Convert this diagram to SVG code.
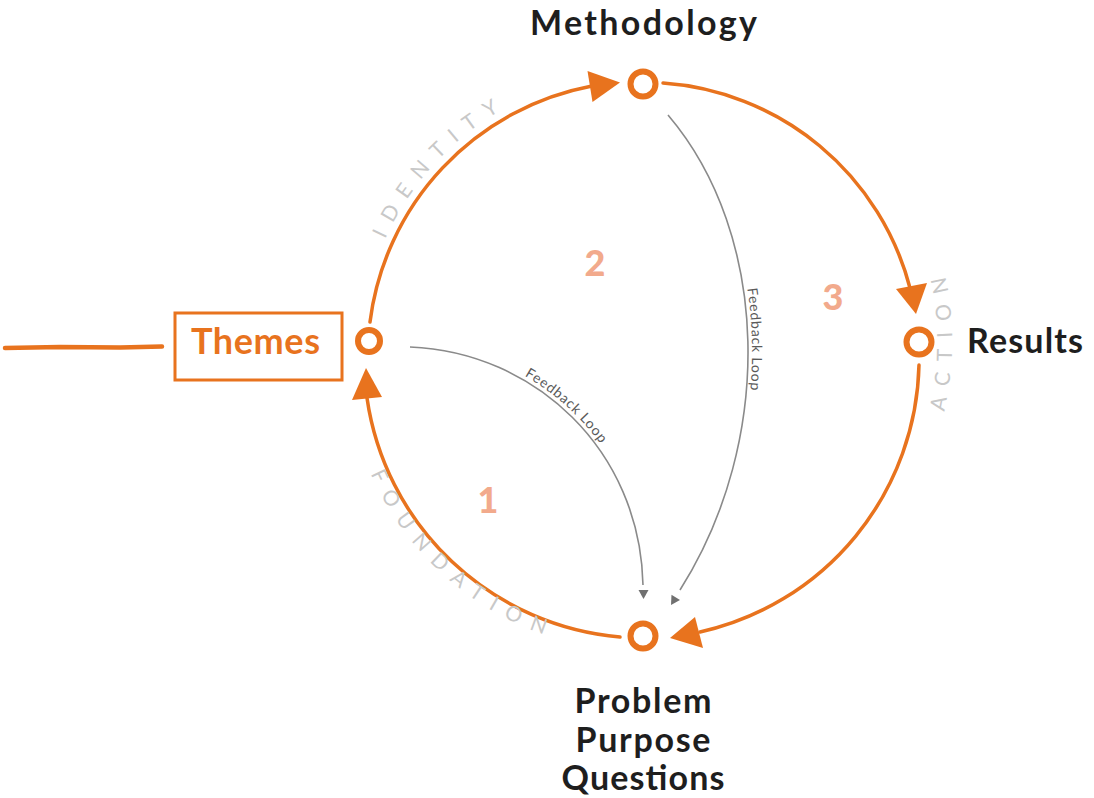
<svg xmlns="http://www.w3.org/2000/svg" width="1094" height="798" viewBox="0 0 1094 798">
<style>
.arc{fill:none;stroke:#E8731E;stroke-width:3.5;stroke-linecap:round}
.head{fill:#E8731E}
.ring{fill:none;stroke:#E8731E;stroke-width:6}
.fb{fill:none;stroke:#8a8a8a;stroke-width:1.6}
.fbhead{fill:#707070}
.fbtxt{font-family:Lato,"Liberation Sans",sans-serif;font-size:14px;fill:#5a5a5a;letter-spacing:0.7px}
.title{font-family:Lato,"Open Sans","Liberation Sans",sans-serif;font-weight:700;font-size:34px;fill:#1e1e1e}
.theme{font-family:Lato,"Open Sans","Liberation Sans",sans-serif;font-weight:700;font-size:36px;fill:#E8731E}
.num{font-family:Lato,"Liberation Sans",sans-serif;font-weight:900;font-size:36px;fill:#F2AA8C}
.ring-lbl{font-family:Lato,"Liberation Sans",sans-serif;font-weight:400;font-size:21px;fill:#c8c8c8;letter-spacing:11.5px}
</style>
<defs>
<path id="p-identity" d="M 370 282 A 283 283 0 0 1 546 89"/>
<path id="p-foundation" d="M 356 432 A 297 297 0 0 0 591 647"/>
<path id="p-action" d="M 923 472 A 309 309 0 0 0 923 210"/>
<path id="fb1" d="M 410 347 C 535 352, 640 450, 643 585"/>
<path id="fb2" d="M 668 115 C 770 235, 775 440, 680 590"/>
</defs>
<rect width="1094" height="798" fill="#ffffff"/>

<g id="connectors">
<path class="arc" d="M 370 322 A 275 275 0 0 1 592 86"/>
<polygon class="head" points="587.5,71 620,82.5 592.5,102"/>
<path class="arc" d="M 663 83 A 275 275 0 0 1 910 288"/>
<polygon class="head" points="896,289 927,283 916,314"/>
<path class="arc" d="M 919 365 A 280 280 0 0 1 700 632"/>
<polygon class="head" points="695,617 670,638 703,648"/>
<path class="arc" d="M 620 637 A 280 280 0 0 1 367 398"/>
<polygon class="head" points="352,400 366,368 382,397"/>
<path d="M 5 348 L 60 347 L 120 347.5 L 162 346.5" fill="none" stroke="#E8731E" stroke-width="4.5" stroke-linecap="round"/>
<use href="#fb1" class="fb"/>
<polygon class="fbhead" points="638.5,590 648.5,590 643.5,599"/>
<use href="#fb2" class="fb"/>
<polygon class="fbhead" points="680,600 671.5,594.8 671,605"/>
<text class="fbtxt" dy="-4"><textPath href="#fb1" startOffset="46%" text-anchor="middle">Feedback Loop</textPath></text>
<text class="fbtxt" dy="-4"><textPath href="#fb2" startOffset="48%" text-anchor="middle">Feedback Loop</textPath></text>
</g>

<g id="ring-labels">
<text class="ring-lbl"><textPath href="#p-identity" startOffset="51%" text-anchor="middle">IDENTITY</textPath></text>
<text class="ring-lbl"><textPath href="#p-foundation" startOffset="51%" text-anchor="middle">FOUNDATION</textPath></text>
<text class="ring-lbl"><textPath href="#p-action" startOffset="51%" text-anchor="middle">ACTION</textPath></text>
</g>

<g id="numbers">
<text class="num" x="488" y="513" text-anchor="middle">1</text>
<text class="num" x="595" y="276" text-anchor="middle">2</text>
<text class="num" x="833" y="310" text-anchor="middle">3</text>
</g>

<g id="node-methodology">
<circle class="ring" cx="643" cy="84" r="12.5"/>
<text class="title" x="530" y="35" textLength="227" lengthAdjust="spacing">Methodology</text>
</g>

<g id="node-themes">
<circle class="ring" cx="369" cy="341" r="11"/>
<rect x="175" y="313" width="167" height="67" fill="none" stroke="#E8731E" stroke-width="3"/>
<text class="theme" x="191" y="354" textLength="129" lengthAdjust="spacing">Themes</text>
</g>

<g id="node-results">
<circle class="ring" cx="919" cy="342" r="12.5"/>
<text class="title" x="967" y="353" textLength="116" lengthAdjust="spacing">Results</text>
</g>

<g id="node-problem">
<circle class="ring" cx="643" cy="636" r="12.5"/>
<text class="title" x="643" y="713" text-anchor="middle" textLength="137" lengthAdjust="spacing">Problem</text>
<text class="title" x="643" y="752" text-anchor="middle" textLength="135" lengthAdjust="spacing">Purpose</text>
<text class="title" x="643" y="790" text-anchor="middle" textLength="163" lengthAdjust="spacing">Questions</text>
</g>
</svg>
